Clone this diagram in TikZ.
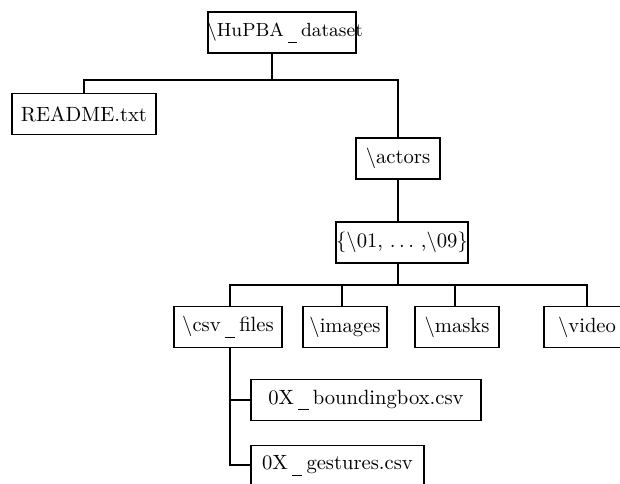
\documentclass[tikz,border=0pt]{standalone}
\newcommand\us{\kern0.2em\rule[-0.3em]{0.5em}{0.4pt}\kern0.2em}
\begin{document}
\def\u{0.485pt}
\begin{tikzpicture}[x=\u, y=-\u,
  box/.style={draw, line width=0.9pt, inner sep=0pt, minimum height=41*\u, anchor=center},
  link/.style={line width=0.9pt}]
\useasboundingbox (0,0) rectangle (620,484);
\clip (0,0) rectangle (620,484);

% folder boxes
\node[box, minimum width=148*\u] (root) at (282,32.5) {};
\node[font=\fontsize{9.2}{11}\selectfont] at (285,32.5) {\textbackslash HuPBA\us dataset};
\node[box, minimum width=144*\u] (readme) at (84,114) {README.txt};
\node[box, minimum width=84*\u] (actors) at (398,158.5) {\textbackslash actors};
\node[box, minimum width=132*\u] (range) at (402,242.5) {\{\textbackslash 01, $\ldots$ ,\textbackslash 09\}};
\node[box, minimum width=108*\u] (csv) at (228,327) {\textbackslash csv\us files};
\node[box, minimum width=84*\u] (images) at (345,327) {\textbackslash images};
\node[box, minimum width=84*\u] (masks) at (457,327) {\textbackslash masks};
\node[box, minimum width=86*\u] (video) at (587,327) {\textbackslash video};
\node[box, minimum width=230*\u] (bbox) at (366,400) {0X\us boundingbox.csv};
\node[box, minimum width=173*\u] (gest) at (337.5,466) {0X\us gestures.csv};

% junction points
\coordinate (j0) at (272,80);
\coordinate (j1) at (398,285);
\coordinate (j2) at (230,465);

% root level
\draw[link] (root.south -| j0) -- (j0);
\draw[link] (readme.north) -- (readme.north |- j0) -- (actors.north |- j0) -- (actors.north);
\draw[link] (actors.south) -- (actors.south |- range.north);

% sub-folders of each actor
\draw[link] (range.south -| j1) -- (j1);
\draw[link] (csv.north -| j2) -- (j2 |- j1) -- (video.north |- j1) -- (video.north);
\draw[link] (images.north -| 342,0) -- (342,285);
\draw[link] (masks.north -| 455,0) -- (455,285);

% files inside csv folder
\draw[link] (csv.south -| j2) -- (j2) -- (gest.west |- j2);
\draw[link] (j2 |- bbox.west) -- (bbox.west);
\end{tikzpicture}
\end{document}
